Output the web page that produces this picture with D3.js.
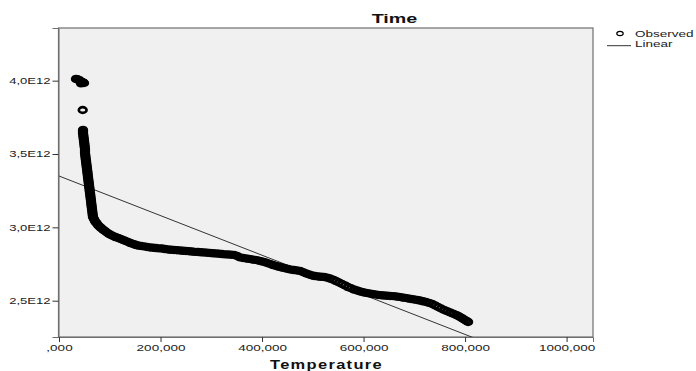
<!DOCTYPE html>
<html>
<head>
<meta charset="utf-8">
<script src="https://cdn.jsdelivr.net/npm/d3@7"></script>
<style>
  body { margin: 0; background: #fff; }
  svg { display: block; font-family: "Liberation Sans", Arial, sans-serif; }
</style>
</head>
<body>
<svg id="chart" width="696" height="371"></svg>
<script>
// observed points (temperature, time)
const temperature = [
  33.5, 39.4, 45.3, 49.3, 35.5, 41.4, 47.3, 43.3, 46.7,
  47.3, 47.3, 48.3, 49.3, 50.2, 51.2, 51.2, 52.2, 53.2, 54.2, 55.2, 56.2,
  57.1, 58.1, 59.1, 60.1, 61.1, 62.1, 63.1, 64.0, 65.0, 66.0, 67.0,
  47.3, 47.8, 48.8, 49.8, 50.7, 51.2, 51.7, 52.7, 53.7, 54.7, 55.7, 56.7,
  57.6, 58.6, 59.6, 60.6, 61.6, 62.6, 63.5, 64.5, 65.5, 66.5, 69.0,
  70.9, 76.8, 82.8, 90.6, 98.5, 106.4, 116.3, 126.1, 136.0, 145.8, 155.7,
  167.5, 179.3, 191.1, 202.9, 214.8, 226.6, 238.4, 250.2, 262.1, 273.9,
  285.7, 297.5, 309.4, 321.2, 333.0, 344.8, 356.6, 368.5, 380.3, 392.1,
  403.9, 415.8, 427.6, 439.4, 451.2, 463.0, 474.9, 486.7, 498.5, 510.3,
  522.2, 534.0, 545.8, 557.6, 569.4, 581.3, 593.1, 604.9, 616.7, 628.6,
  640.4, 652.2, 664.0, 675.8, 687.7, 699.5, 711.3, 723.1, 735.0, 746.8,
  758.6, 770.4, 782.2, 790.1, 798.0, 805.9,
  73.8, 79.8, 86.7, 94.5, 102.4, 111.3, 121.2, 131.0, 140.9, 150.7,
  161.6, 173.4, 185.2, 197.0, 208.8, 220.7, 232.5, 244.3, 256.1, 268.0,
  279.8, 291.6, 303.4, 315.3, 327.1, 338.9, 350.7, 362.5, 374.4, 386.2,
  398.0, 409.8, 421.7, 433.5, 445.3, 457.1, 468.9, 480.8, 492.6, 504.4,
  516.2, 528.1, 539.9, 551.7, 563.5, 575.3, 587.2, 599.0, 610.8, 622.6,
  634.5, 646.3, 658.1, 669.9, 681.7, 693.6, 705.4, 717.2, 729.0, 740.9,
  752.7, 764.5, 776.3, 786.2, 794.0, 802.0
];
const time = [
  4.012e12, 4.005e12, 3.991e12, 3.984e12, 4.010e12, 3.998e12, 3.988e12, 3.982e12, 3.800e12,
  3.664e12, 3.643e12, 3.616e12, 3.589e12, 3.562e12, 3.534e12, 3.507e12, 3.480e12, 3.453e12, 3.425e12, 3.398e12, 3.371e12,
  3.343e12, 3.316e12, 3.289e12, 3.262e12, 3.234e12, 3.207e12, 3.180e12, 3.152e12, 3.125e12, 3.098e12, 3.070e12,
  3.654e12, 3.630e12, 3.603e12, 3.575e12, 3.548e12, 3.521e12, 3.494e12, 3.466e12, 3.439e12, 3.412e12, 3.384e12, 3.357e12,
  3.330e12, 3.303e12, 3.275e12, 3.248e12, 3.221e12, 3.193e12, 3.166e12, 3.139e12, 3.111e12, 3.084e12, 3.057e12,
  3.043e12, 3.016e12, 2.996e12, 2.975e12, 2.955e12, 2.941e12, 2.928e12, 2.914e12, 2.900e12, 2.887e12, 2.876e12,
  2.870e12, 2.863e12, 2.859e12, 2.856e12, 2.849e12, 2.846e12, 2.842e12, 2.839e12, 2.835e12, 2.832e12,
  2.829e12, 2.825e12, 2.822e12, 2.818e12, 2.815e12, 2.812e12, 2.795e12, 2.788e12, 2.781e12, 2.774e12,
  2.764e12, 2.750e12, 2.737e12, 2.726e12, 2.716e12, 2.709e12, 2.703e12, 2.686e12, 2.672e12, 2.665e12,
  2.662e12, 2.651e12, 2.634e12, 2.614e12, 2.593e12, 2.576e12, 2.563e12, 2.553e12, 2.546e12, 2.539e12,
  2.535e12, 2.532e12, 2.529e12, 2.522e12, 2.515e12, 2.508e12, 2.501e12, 2.491e12, 2.478e12, 2.457e12,
  2.437e12, 2.420e12, 2.403e12, 2.389e12, 2.372e12, 2.355e12,
  3.030e12, 3.006e12, 2.985e12, 2.965e12, 2.948e12, 2.934e12, 2.921e12, 2.907e12, 2.893e12, 2.881e12,
  2.873e12, 2.866e12, 2.861e12, 2.857e12, 2.852e12, 2.847e12, 2.844e12, 2.840e12, 2.837e12, 2.833e12,
  2.830e12, 2.827e12, 2.823e12, 2.820e12, 2.816e12, 2.813e12, 2.805e12, 2.791e12, 2.785e12, 2.778e12,
  2.769e12, 2.757e12, 2.743e12, 2.731e12, 2.721e12, 2.712e12, 2.706e12, 2.695e12, 2.679e12, 2.668e12,
  2.663e12, 2.657e12, 2.643e12, 2.624e12, 2.604e12, 2.585e12, 2.570e12, 2.558e12, 2.550e12, 2.543e12,
  2.537e12, 2.534e12, 2.531e12, 2.526e12, 2.519e12, 2.512e12, 2.505e12, 2.496e12, 2.485e12, 2.468e12,
  2.447e12, 2.429e12, 2.412e12, 2.396e12, 2.381e12, 2.364e12
];

// linear fit shown on the chart
const fitIntercept = 3.35e12;
const fitSlope = -1.35e9;

const xTicks = [0, 200, 400, 600, 800, 1000];
const xTickLabels = [',000', '200,000', '400,000', '600,000', '800,000', '1000,000'];
const yTicks = [2.5e12, 3.0e12, 3.5e12, 4.0e12];
const yTickLabels = ['2,5E12', '3,0E12', '3,5E12', '4,0E12'];

const legendLabels = ['Observed', 'Linear'];

const plot = {left: 58.5, right: 593, top: 28, bottom: 337};

const svg = d3.select('#chart');

// stretch text horizontally, the source picture has wide glyphs
function stretch(sel, factor) {
  sel.each(function () {
    const w = this.getComputedTextLength();
    d3.select(this)
      .attr('textLength', w * factor)
      .attr('lengthAdjust', 'spacingAndGlyphs');
  });
}

const x = d3.scaleLinear().domain([0, 1052]).range([plot.left + 0.5, plot.right]);
const y = d3.scaleLinear().domain([2.2525e12, 4.359e12]).range([plot.bottom, plot.top]);

/********* plot background *********/
svg.append('rect')
  .attr('x', plot.left)
  .attr('y', plot.top)
  .attr('width', plot.right - plot.left)
  .attr('height', plot.bottom - plot.top)
  .style('fill', '#f0f0f0')
  .style('stroke', '#6e6e6e')
  .style('stroke-width', 1.2);

svg.append('clipPath')
  .attr('id', 'clip')
  .append('rect')
  .attr('x', plot.left)
  .attr('y', plot.top)
  .attr('width', plot.right - plot.left)
  .attr('height', plot.bottom - plot.top);

/********* axes *********/
const xAxis = svg.append('g')
  .attr('transform', `translate(0, ${plot.bottom})`)
  .call(d3.axisBottom(x)
    .tickValues(xTicks)
    .tickFormat((d, i) => xTickLabels[i])
    .tickSize(5)
    .tickPadding(3));
xAxis.select('.domain').style('stroke', '#6e6e6e');
xAxis.selectAll('line').style('stroke', '#333');
xAxis.selectAll('text')
  .style('font-size', '9px')
  .style('fill', '#222')
  .call(stretch, 1.5);

const yAxis = svg.append('g')
  .attr('transform', `translate(${plot.left}, 0)`)
  .call(d3.axisLeft(y)
    .tickValues(yTicks)
    .tickFormat((d, i) => yTickLabels[i])
    .tickSize(6)
    .tickPadding(2));
yAxis.select('.domain').style('stroke', '#6e6e6e');
yAxis.selectAll('line').style('stroke', '#333');
yAxis.selectAll('text')
  .style('font-size', '9px')
  .style('fill', '#222')
  .call(stretch, 1.45);

/********* linear fit *********/
const fitLine = d3.line()
  .x((d) => x(d))
  .y((d) => y(fitIntercept + fitSlope * d));

svg.append('path')
  .datum([0, 1052])
  .attr('clip-path', 'url(#clip)')
  .attr('d', fitLine)
  .style('fill', 'none')
  .style('stroke', '#333')
  .style('stroke-width', 1);

/********* observed points *********/
svg.append('g')
  .attr('clip-path', 'url(#clip)')
  .selectAll('ellipse')
  .data(temperature)
  .enter()
  .append('ellipse')
  .attr('cx', (d) => x(d))
  .attr('cy', (d, i) => y(time[i]))
  .attr('rx', 3.9)
  .attr('ry', 2.9)
  .style('fill', 'none')
  .style('stroke', '#000')
  .style('stroke-width', 2.6);

/********* title and labels *********/
svg.append('text')
  .attr('x', 394.5)
  .attr('y', 23.3)
  .attr('text-anchor', 'middle')
  .attr('textLength', 45.6)
  .attr('lengthAdjust', 'spacingAndGlyphs')
  .style('font-size', '13px')
  .style('font-weight', 'bold')
  .style('fill', '#111')
  .text('Time');

svg.append('text')
  .attr('x', 326.5)
  .attr('y', 369.3)
  .attr('text-anchor', 'middle')
  .attr('textLength', 113)
  .attr('lengthAdjust', 'spacingAndGlyphs')
  .style('font-size', '12.5px')
  .style('font-weight', 'bold')
  .style('letter-spacing', '1px')
  .style('fill', '#111')
  .text('Temperature');

/********* legend *********/
const legend = svg.append('g');

legend.append('ellipse')
  .attr('cx', 620)
  .attr('cy', 33.5)
  .attr('rx', 3.2)
  .attr('ry', 2.2)
  .style('fill', 'none')
  .style('stroke', '#000')
  .style('stroke-width', 1.2);

legend.append('line')
  .attr('x1', 607)
  .attr('x2', 631)
  .attr('y1', 45.7)
  .attr('y2', 45.7)
  .style('stroke', '#333')
  .style('stroke-width', 1);

legend.selectAll('text.leg')
  .data(legendLabels)
  .enter()
  .append('text')
  .attr('class', 'leg')
  .attr('x', 635)
  .attr('y', (d, i) => 37.3 + i * 10)
  .style('font-size', '9px')
  .style('fill', '#222')
  .text((d) => d)
  .call(stretch, 1.5);
</script>
</body>
</html>
